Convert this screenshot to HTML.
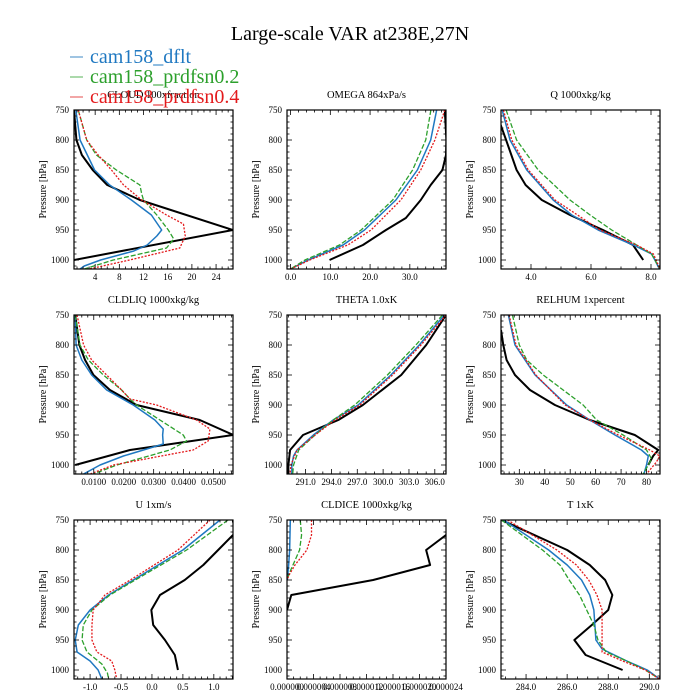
<!DOCTYPE html>
<html><head><meta charset="utf-8">
<style>
html,body{margin:0;padding:0;background:#fff;}
svg{display:block;font-family:"Liberation Serif",serif;}
</style></head>
<body>
<svg id="fig" width="700" height="700" viewBox="0 0 700 700">
<rect x="0" y="0" width="700" height="700" fill="#fff"/>
<text x="350" y="40" font-size="20" text-anchor="middle">Large-scale VAR at238E,27N</text>
</svg>
<script>
// ---------- data: [pressure hPa, value] ----------
const seriesNames = ["obs","cam158_dflt","cam158_prdfsn0.2","cam158_prdfsn0.4"];
const legendLabels = ["cam158_dflt","cam158_prdfsn0.2","cam158_prdfsn0.4"];

const cloudObs = [[750,0.5],[800,0.9],[825,1.8],[850,3.6],[875,6],[900,11.4],[950,26.8],[1000,0.5]];
const cloudDflt = [[750,0.8],[800,1.5],[850,3.9],[875,6.4],[900,10],[925,13.3],[950,15],[960,14.2],[975,12.6],[985,10.4],[1000,4.9],[1010,2.2],[1015,1.5]];
const cloudP02 = [[750,1.2],[800,2.6],[825,4.2],[850,7.5],[875,11.4],[890,11.7],[900,12],[925,14.2],[950,16.1],[965,17],[980,15.8],[1000,7],[1015,2.2]];
const cloudP04 = [[750,1.2],[800,2.6],[825,4.5],[850,6.7],[875,8.7],[900,11.7],[925,15.8],[940,18.6],[960,18.9],[980,18],[1000,9.7],[1015,3]];

const omegaObs = [[750,38.8],[800,39.2],[825,39.1],[850,38.2],[875,35.25],[900,32.75],[930,29],[950,24],[975,18.2],[1000,9.8]];
const omegaDflt = [[750,36.75],[800,35.25],[850,31.9],[900,26.5],[950,18.6],[975,13.2],[1000,4.4],[1015,0]];
const omegaP02 = [[750,35.3],[800,34],[850,30.7],[900,25.7],[950,17.75],[975,12.3],[1000,3.6],[1015,0]];
const omegaP04 = [[750,38.8],[800,36.3],[850,32.75],[900,27.75],[950,20.25],[975,14.4],[1000,4.8],[1015,0]];

const qObs = [[775,2.99],[800,3.17],[850,3.52],[875,3.82],[900,4.36],[925,5.3],[950,6.4],[975,7.4],[1000,7.74]];
const qDflt = [[750,3.04],[800,3.3],[850,3.86],[900,4.74],[925,5.36],[950,6.24],[975,7.41],[990,8.02],[1000,8.13],[1015,8.28]];
const qP02 = [[750,3.17],[800,3.52],[850,4.24],[900,5.3],[925,5.97],[950,6.69],[975,7.52],[990,8.02],[1000,8.13],[1015,8.3]];
const qP04 = [[750,3.08],[800,3.36],[850,3.91],[900,4.8],[950,6.3],[975,7.52],[990,8.08],[1000,8.17],[1015,8.3]];

const liqObs = [[750,0.0038],[800,0.0052],[825,0.0071],[850,0.0099],[875,0.0154],[900,0.0243],[925,0.0454],[950,0.0566],[975,0.0221],[1000,0.0038]];
const liqDflt = [[750,0.0038],[800,0.0041],[825,0.006],[850,0.0093],[875,0.0143],[900,0.0232],[925,0.0304],[940,0.0332],[950,0.033],[965,0.0332],[975,0.0266],[985,0.0199],[1000,0.0121],[1015,0.0066]];
const liqP02 = [[750,0.0038],[800,0.0054],[825,0.0082],[850,0.0132],[875,0.0193],[890,0.0221],[900,0.0243],[925,0.0321],[950,0.0399],[960,0.041],[975,0.0354],[1000,0.0177],[1015,0.0099]];
const liqP04 = [[750,0.0044],[800,0.0066],[825,0.0093],[850,0.0143],[875,0.0193],[890,0.0221],[900,0.031],[925,0.0443],[940,0.0488],[960,0.0482],[975,0.0432],[1000,0.0166],[1015,0.0088]];

const thetaObs = [[750,307.3],[800,305],[850,302.1],[900,297.65],[925,294.8],[950,290.7],[975,289.2],[1000,289],[1015,289]];
const thetaDflt = [[750,307.1],[800,304.2],[850,300.9],[900,297.1],[925,294.2],[950,291.9],[975,290],[985,289.6],[1000,289.4],[1015,289.4]];
const thetaP02 = [[750,306.9],[800,303.8],[850,300.5],[900,296.7],[925,294.2],[950,292.1],[975,290.2],[1000,289.6],[1015,289.5]];
const thetaP04 = [[750,307.3],[800,304.4],[850,301.1],[900,297.3],[925,294.4],[950,292.1],[975,290],[1000,289.3],[1015,289.2]];

const rhObs = [[775,22.8],[800,23.7],[825,25],[850,28.3],[875,34.2],[900,44],[925,57.7],[950,75.4],[975,84.6],[985,82.6],[1000,80.7]];
const rhDflt = [[750,25.7],[800,28.3],[850,36.2],[900,48.6],[925,57.7],[950,67.6],[975,78],[985,80.7],[1000,80],[1015,79]];
const rhP02 = [[750,27.3],[800,30],[825,32.9],[850,39.4],[900,55.1],[925,60.4],[950,70.8],[975,80],[990,82],[1000,80.7],[1015,78.7]];
const rhP04 = [[750,26],[800,28.7],[850,36.5],[900,48],[925,57.7],[950,68.9],[975,81.3],[985,85.2],[995,83.9],[1015,80]];

const uObs = [[775,1.31],[800,1.07],[825,0.83],[850,0.53],[875,0.13],[900,-0.01],[925,0.02],[950,0.21],[975,0.37],[1000,0.42]];
const uDflt = [[750,1.1],[800,0.5],[850,-0.3],[875,-0.7],[900,-1.0],[925,-1.19],[950,-1.24],[970,-1.21],[985,-1.0],[1000,-0.87],[1015,-0.81]];
const uP02 = [[750,1.23],[800,0.56],[850,-0.27],[875,-0.68],[900,-0.97],[925,-1.11],[950,-1.13],[970,-1.05],[990,-0.81],[1005,-0.72],[1015,-0.7]];
const uP04 = [[750,0.94],[800,0.42],[850,-0.35],[875,-0.76],[900,-0.95],[925,-0.97],[950,-0.97],[970,-0.89],[985,-0.65],[1000,-0.6],[1015,-0.57]];

const iceObs = [[775,24],[800,21],[825,21.6],[850,13],[875,0.65],[900,0]];
const iceDflt = [[750,0.5],[800,0.4],[825,0.25],[850,0.05]];
const iceP02 = [[750,2],[775,2.2],[800,1.9],[825,0.9],[840,0.3],[850,0]];
const iceP04 = [[750,3.7],[775,3.7],[800,3],[825,1.2],[840,0.4],[850,0]];

const tObs = [[750,282.8],[800,286],[825,287.1],[850,287.85],[875,288.2],[900,288],[925,287.2],[950,286.35],[975,286.9],[1000,288.7]];
const tDflt = [[750,282.9],[800,285.1],[825,286],[850,286.7],[875,287.1],[900,287.3],[925,287.35],[950,287.4],[965,287.7],[985,288.9],[1000,289.9],[1015,290.5]];
const tP02 = [[750,282.8],[800,284.8],[825,285.65],[850,286.1],[875,286.6],[900,286.95],[925,287.3],[950,287.5],[970,287.9],[985,288.9],[1000,289.8],[1015,290.5]];
const tP04 = [[750,283.1],[800,285.5],[825,286.45],[850,287.05],[875,287.45],[900,287.7],[950,287.7],[970,287.7],[985,288.7],[1000,289.8],[1015,290.5]];

const pTicks = [750,800,850,900,950,1000];
const cloudTicks = [4,8,12,16,20,24];
const omegaTicks = [0,10,20,30];
const qTicks = [4,6,8];
const liqTicks = [0.01,0.02,0.03,0.04,0.05];
const thetaTicks = [291,294,297,300,303,306];
const rhTicks = [30,40,50,60,70,80];
const uTicks = [-1,-0.5,0,0.5,1];
const iceTicks = [0,4,8,12,16,20,24];

// ---------- drawing ----------
const NS = "http://www.w3.org/2000/svg";
const svg = document.getElementById("fig");
const colors = ["#000000","#1f78c1","#2ca02c","#e31a1c"];
const widths = [2,1.5,1.3,1.3];
const dashes = ["","","5,2","2,1.5"];
const P0 = 750, P1 = 1015;
const W = 159, H = 159;

function mk(tag, attrs, parent){
  const e = document.createElementNS(NS, tag);
  for (const k in attrs) e.setAttribute(k, attrs[k]);
  (parent||svg).appendChild(e);
  return e;
}

function panel(opt){
  const g = mk("g", {});
  
  
  const x0 = opt.x, y0 = opt.y;
  const sx = v => x0 + (v - opt.xmin) / (opt.xmax - opt.xmin) * W;
  const sy = p => y0 + (p - P0) / (P1 - P0) * H;
  // title
  const t = mk("text", {x: x0 + W/2, y: y0 - 12, "font-size": 10.5, "text-anchor": "middle"}, g);
  t.textContent = opt.title;
  
  
  // clip
  const cid = "clip-" + opt.name;
  const cp = mk("clipPath", {id: cid}, g);
  mk("rect", {x: x0, y: y0, width: W, height: H}, cp);
  // series
  opt.series.forEach((s, i) => {
    const d = s.map((pt, j) => (j ? "L" : "M") + sx(pt[1]).toFixed(2) + "," + sy(pt[0]).toFixed(2)).join(" ");
    const path = mk("path", {d: d, fill: "none", stroke: colors[i], "stroke-width": widths[i], "stroke-dasharray": dashes[i], "clip-path": "url(#" + cid + ")", "stroke-linejoin": "round"}, g);
    
    
  });
  // frame
  const fr = mk("rect", {x: x0, y: y0, width: W, height: H, fill: "none", stroke: "#000", "stroke-width": 1.2}, g);
  
  
  // y ticks
  for (let p = 750; p <= 1010; p += 10) {
    const y = sy(p);
    const L = (p % 50 === 0) ? 5 : 2.5;
    mk("line", {x1: x0, x2: x0 + L, y1: y, y2: y, stroke: "#000", "stroke-width": 0.8}, g);
    mk("line", {x1: x0 + W, x2: x0 + W - L, y1: y, y2: y, stroke: "#000", "stroke-width": 0.8}, g);
  }
  pTicks.forEach(p => {
    const tl = mk("text", {x: x0 - 5, y: sy(p) + 3, "font-size": 9, "text-anchor": "end"}, g);
    tl.textContent = p;
    
    
  });
  const yl = mk("text", {x: 0, y: 0, "font-size": 10, "text-anchor": "middle", transform: "translate(" + (x0 - 28) + "," + (y0 + H/2) + ") rotate(-90)"}, g);
  yl.textContent = "Pressure [hPa]";
  
  
  // x ticks
  const step = opt.ticks.length > 1 ? opt.ticks[1] - opt.ticks[0] : 1;
  const ms = step / opt.minor;
  const start = Math.ceil((opt.xmin) / ms - 1e-6);
  for (let k = start; k * ms <= opt.xmax + 1e-12; k++) {
    const v = k * ms;
    const isMaj = Math.abs(Math.round(k / opt.minor) * opt.minor - k) < 1e-6;
    const L = isMaj ? 5 : 2.5;
    const x = sx(v);
    mk("line", {x1: x, x2: x, y1: y0 + H, y2: y0 + H - L, stroke: "#000", "stroke-width": 0.8}, g);
    mk("line", {x1: x, x2: x, y1: y0, y2: y0 + L, stroke: "#000", "stroke-width": 0.8}, g);
  }
  opt.ticks.forEach((v, i) => {
    const tl = mk("text", {x: sx(v), y: y0 + H + 11, "font-size": 9, "text-anchor": "middle"}, g);
    tl.textContent = opt.labels[i];
    
    
  });
}

const cols = [74, 287, 501];
const rows = [110, 315, 520];

panel({name:"cloud", title:"CLOUD  100xfraction", x:cols[0], y:rows[0], xmin:0.5, xmax:26.8, ticks:cloudTicks, labels:cloudTicks.map(String), minor:4, series:[cloudObs,cloudDflt,cloudP02,cloudP04]});
panel({name:"omega", title:"OMEGA  864xPa/s", x:cols[1], y:rows[0], xmin:-0.9, xmax:39.1, ticks:omegaTicks, labels:omegaTicks.map(v=>v.toFixed(1)), minor:5, series:[omegaObs,omegaDflt,omegaP02,omegaP04]});
panel({name:"q", title:"Q  1000xkg/kg", x:cols[2], y:rows[0], xmin:3.0, xmax:8.3, ticks:qTicks, labels:qTicks.map(v=>v.toFixed(1)), minor:4, series:[qObs,qDflt,qP02,qP04]});
panel({name:"cldliq", title:"CLDLIQ  1000xkg/kg", x:cols[0], y:rows[1], xmin:0.0034, xmax:0.0565, ticks:liqTicks, labels:liqTicks.map(v=>v.toFixed(4)), minor:5, series:[liqObs,liqDflt,liqP02,liqP04]});
panel({name:"theta", title:"THETA  1.0xK", x:cols[1], y:rows[1], xmin:288.84, xmax:307.3, ticks:thetaTicks, labels:thetaTicks.map(v=>v.toFixed(1)), minor:3, series:[thetaObs,thetaDflt,thetaP02,thetaP04]});
panel({name:"relhum", title:"RELHUM  1xpercent", x:cols[2], y:rows[1], xmin:22.8, xmax:85.3, ticks:rhTicks, labels:rhTicks.map(String), minor:5, series:[rhObs,rhDflt,rhP02,rhP04]});
panel({name:"u", title:"U  1xm/s", x:cols[0], y:rows[2], xmin:-1.26, xmax:1.31, ticks:uTicks, labels:uTicks.map(v=>v.toFixed(1)), minor:5, series:[uObs,uDflt,uP02,uP04]});
panel({name:"cldice", title:"CLDICE  1000xkg/kg", x:cols[1], y:rows[2], xmin:0, xmax:24, ticks:iceTicks, labels:iceTicks.map(v=>(v*1e-6).toFixed(6)), minor:4, series:[iceObs,iceDflt,iceP02,iceP04]});
panel({name:"t", title:"T  1xK", x:cols[2], y:rows[2], xmin:282.78, xmax:290.52, ticks:[284,286,288,290], labels:["284.0","286.0","288.0","290.0"], minor:4, series:[tObs,tDflt,tP02,tP04]});

// legend
const legColors = ["#1f78c1","#2ca02c","#e31a1c"];
const legLight = ["#7fb0d8","#8fcc8f","#ee8888"];
legendLabels.forEach((lab, i) => {
  const y = 63 + i * 20;
  const ln = mk("line", {x1: 70, x2: 83, y1: y - 6, y2: y - 6, stroke: legLight[i], "stroke-width": 1.5});
  
  
  const tx = mk("text", {x: 90, y: y, "font-size": 20, fill: legColors[i]});
  tx.textContent = lab;
  
  
});
</script>
</body></html>
